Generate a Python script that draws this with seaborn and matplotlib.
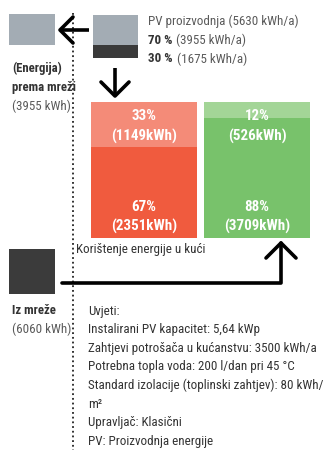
import matplotlib
matplotlib.use("Agg")
import matplotlib.pyplot as plt
from matplotlib.patches import Rectangle
import seaborn as sns
import pandas as pd

# --- data -------------------------------------------------------------
categories = ["PV", "Mreža"]
top_pct = [33, 12]
bottom_pct = [67, 88]
top_kwh = [1149, 526]
bottom_kwh = [2351, 3709]

pv_lines = [("", "PV proizvodnja (5630 kWh/a)"),
            ("70 %", "(3955 kWh/a)"),
            ("30 %", "(1675 kWh/a)")]
conditions = [
    "Uvjeti:",
    "Instalirani PV kapacitet: 5,64 kWp",
    "Zahtjevi potrošača u kućanstvu: 3500 kWh/a",
    "Potrebna topla voda: 200 l/dan pri 45 °C",
    "Standard izolacije (toplinski zahtjev): 80 kWh/",
    "m²",
    "Upravljač: Klasični",
    "PV: Proizvodnja energije",
]

sns.set_theme(style="white")
FONT = ["Roboto Condensed", "Liberation Sans Narrow", "Roboto", "DejaVu Sans"]
plt.rcParams["font.family"] = FONT

TOP_COLORS = ["#f48b78", "#a3d597"]
BOTTOM_COLORS = ["#f05b3e", "#78c26b"]
DARK = "#333333"
GREY = "#5a5a5a"

W, H = 326, 450
fig = plt.figure(figsize=(W / 100, H / 100), dpi=100)
fig.patch.set_facecolor("white")
renderer = fig.canvas.get_renderer()


def fitted_size(text, width, weight="normal"):
    """Font size at which `text` spans `width` pixels."""
    t = fig.text(0, 0, text, fontsize=10, fontweight=weight)
    w = t.get_window_extent(renderer).width
    t.remove()
    return 10 * width / w


# --- stacked bars -----------------------------------------------------
bx0, bx1, by0, by1 = 91, 310, 102, 238
bax = fig.add_axes([bx0 / W, 1 - by1 / H, (bx1 - bx0) / W, (by1 - by0) / H])
df = pd.DataFrame({"cat": categories,
                   "total": [b + t for b, t in zip(bottom_pct, top_pct)],
                   "bottom": bottom_pct})
sns.barplot(data=df, x="cat", y="total", hue="cat", palette=TOP_COLORS,
            width=0.938, saturation=1, legend=False, ax=bax, linewidth=0)
sns.barplot(data=df, x="cat", y="bottom", hue="cat", palette=BOTTOM_COLORS,
            width=0.938, saturation=1, legend=False, ax=bax, linewidth=0)
bax.set_xlim(-0.469, 1.469)
bax.set_ylim(0, 100)
bax.axis("off")

# overlay axes in pixel coordinates for the diagram decorations
ov = fig.add_axes([0, 0, 1, 1], zorder=5)
ov.set_xlim(0, W)
ov.set_ylim(H, 0)
ov.axis("off")
ov.patch.set_alpha(0)

fs_bar = fitted_size("(1149kWh)", 66, "bold")
label_kw = dict(color="white", fontweight="bold", fontsize=fs_bar,
                ha="center", va="center")
for i in range(len(categories)):
    cx = bx0 + (i + 0.469) / 1.938 * (bx1 - bx0)
    ov.text(cx, 116, f"{top_pct[i]}%", **label_kw)
    ov.text(cx, 136, f"({top_kwh[i]}kWh)", **label_kw)
    ov.text(cx, 207, f"{bottom_pct[i]}%", **label_kw)
    ov.text(cx, 226, f"({bottom_kwh[i]}kWh)", **label_kw)

# --- boxes --------------------------------------------------------------
ov.add_patch(Rectangle((9, 14), 46, 31, color="#a3acb4", lw=0))
ov.add_patch(Rectangle((93, 15), 45, 30, color="#a3acb4", lw=0))
ov.add_patch(Rectangle((93, 45), 45, 13, color="#3a3a3a", lw=0))
ov.add_patch(Rectangle((9, 249), 46, 45, color="#3b3b3b", lw=0))

# --- dotted separator ---------------------------------------------------
ov.plot([73, 73], [13, 450], color="#222222", lw=1.3, ls=(0, (1, 1.6)))

# --- arrows -------------------------------------------------------------
alw = 2.6
ov.plot([89, 60], [30, 30], color="black", lw=alw, solid_capstyle="butt")
ov.plot([73, 60, 73], [17, 30, 43], color="black", lw=alw)
ov.plot([115, 115], [68, 96], color="black", lw=alw, solid_capstyle="butt")
ov.plot([101, 115, 129], [82, 96, 82], color="black", lw=alw)
ov.plot([62, 281, 281], [283, 283, 243], color="black", lw=alw)
ov.plot([266, 281, 296], [258, 243, 258], color="black", lw=alw)

# --- texts --------------------------------------------------------------
fs = fitted_size(conditions[2], 226)
fs_b = fitted_size("prema mreži", 64, "bold")

for k, (b, n) in enumerate(pv_lines):
    y = 21 + k * 19
    if b:
        tb = ov.text(148, y, b, color=DARK, fontweight="bold", fontsize=fs, va="center")
        bw = tb.get_window_extent(renderer).width
        ov.text(148 + bw + 4, y, n, color=GREY, fontsize=fs, va="center")
    else:
        ov.text(148, y, n, color=GREY, fontsize=fs, va="center")

ov.text(12, 68, "(Energija)", color=DARK, fontweight="bold", fontsize=fs_b, va="center")
ov.text(12, 88, "prema mreži", color=DARK, fontweight="bold", fontsize=fs_b, va="center")
ov.text(12, 106, "(3955 kWh)", color=GREY, fontsize=fs, va="center")

ov.text(76, 249, "Korištenje energije u kući", color=DARK, fontsize=fs, va="center")

ov.text(12, 311, "Iz mreže", color=DARK, fontweight="bold", fontsize=fs_b, va="center")
ov.text(12, 329, "(6060 kWh)", color=GREY, fontsize=fs, va="center")

for k, line in enumerate(conditions):
    ov.text(88, 311 + k * 18.6, line, color=DARK, fontsize=fs, va="center")

fig.savefig("out.png", dpi=100, facecolor="white")
